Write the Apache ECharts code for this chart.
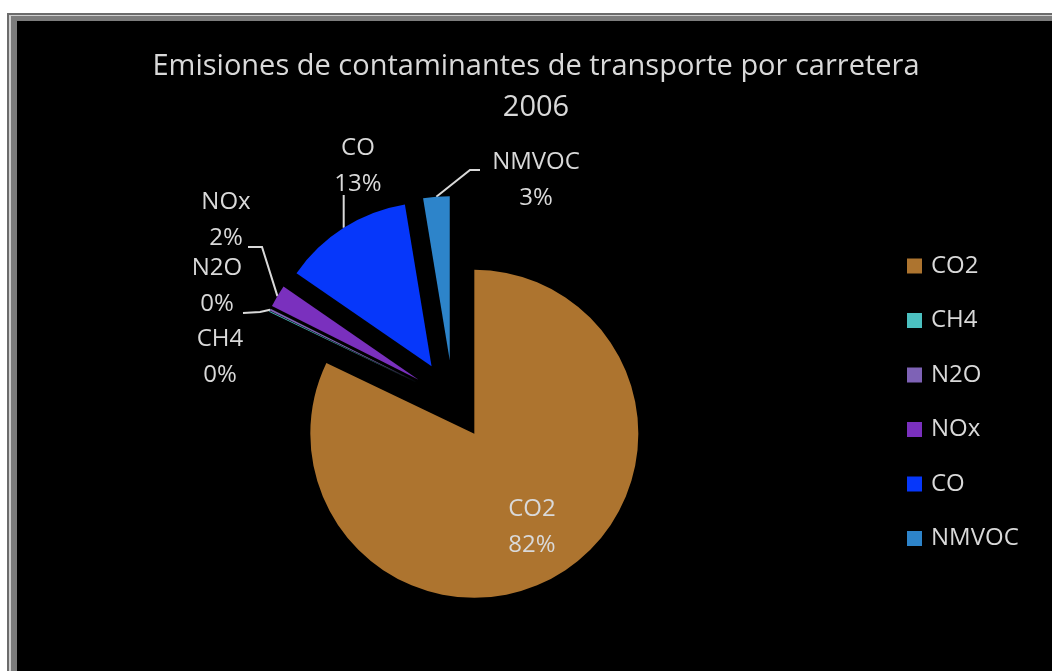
<!DOCTYPE html>
<html>
<head>
<meta charset="utf-8">
<script src="https://cdn.jsdelivr.net/npm/echarts@6/dist/echarts.min.js"></script>
<style>
  body { margin: 0; background: #fff; width: 1052px; height: 671px; overflow: hidden; position: relative; }
  .band { position: absolute; width: 1200px; height: 800px; }
  #chart { position: absolute; left: 17px; top: 21px; width: 1035px; height: 650px; background: #000; }
</style>
</head>
<body>
<div class="band" style="left:7px;top:13px;background:#6c6c6c"></div>
<div class="band" style="left:9px;top:15px;background:#cfcfcf"></div>
<div class="band" style="left:11px;top:16px;background:#7c7c7c"></div>
<div id="chart"></div>
<script>
const categories = ["CO2", "CH4", "N2O", "NOx", "CO", "NMVOC"];
const shares = [82.1, 0.1, 0.2, 2.2, 12.8, 2.6];
const colors = ["#ad742f", "#4bc0c0", "#7e62b6", "#7a30be", "#0637fa", "#2d84ca"];

const textColor = "#d9d9d9";
const font = "'Open Sans', 'Noto Sans', sans-serif";

const pieCenter = [436, 379];
const pieRadius = 164;
const explode = 40;

// label centres (chart px), placed the way Excel put them
const labelAt = {
  CO2: [515, 506],
  CH4: [203, 336],
  N2O: [200, 265],
  NOx: [209, 199],
  CO: [341, 145],
  NMVOC: [519, 159],
};
// leader line: bend and end points after the slice edge point
const leaderTail = {
  N2O: [[243, 291], [226, 292]],
  NOx: [[245, 226], [231, 226]],
  NMVOC: [[453, 149], [463, 149]],
};

const total = shares.reduce((a, b) => a + b, 0);

// point on the outer edge of an exploded slice, at its middle angle
function edgePoint(i) {
  const before = shares.slice(0, i).reduce((a, b) => a + b, 0);
  const a = ((before + shares[i] / 2) / total) * 2 * Math.PI;
  const r = pieRadius + explode;
  return [pieCenter[0] + r * Math.sin(a), pieCenter[1] - r * Math.cos(a)];
}

const chart = echarts.init(document.getElementById("chart"));
chart.setOption({
  animation: false,
  backgroundColor: "#000",
  title: {
    text: "Emisiones de contaminantes de transporte por carretera\n2006",
    left: 514,
    top: 20,
    textAlign: "center",
    textStyle: {
      color: textColor,
      fontFamily: font,
      fontWeight: "normal",
      fontSize: 29,
      lineHeight: 41,
    },
  },
  legend: {
    orient: "vertical",
    left: 885,
    top: 228,
    icon: "rect",
    itemWidth: 15,
    itemHeight: 15,
    itemGap: 30.5,
    data: categories,
    textStyle: { color: textColor, fontFamily: font, fontSize: 24, lineHeight: 24, padding: [0, 0, 0, 4] },
  },
  series: [
    {
      type: "pie",
      center: pieCenter,
      radius: pieRadius,
      startAngle: 90,
      clockwise: true,
      selectedMode: "multiple",
      selectedOffset: explode,
      emphasis: { disabled: true },
      label: { show: false },
      labelLine: { show: false },
      data: categories.map((name, i) => ({
        name,
        value: shares[i],
        selected: true,
        itemStyle: { color: colors[i] },
      })),
    },
    {
      // labels only, laid over the exploded slices
      type: "pie",
      center: pieCenter,
      radius: pieRadius,
      startAngle: 90,
      clockwise: true,
      silent: true,
      avoidLabelOverlap: false,
      emphasis: { disabled: true },
      itemStyle: { color: "rgba(0,0,0,0)" },
      label: {
        color: textColor,
        fontFamily: font,
        fontSize: 24,
        lineHeight: 36,
        formatter: (p) => p.name + "\n" + Math.round(p.percent) + "%",
      },
      labelLine: { lineStyle: { color: textColor, width: 2 } },
      labelLayout: (params) => {
        const i = params.dataIndex;
        const name = categories[i];
        const at = labelAt[name];
        const out = { x: at[0], y: at[1], align: "center", verticalAlign: "middle" };
        const p0 = edgePoint(i);
        if (leaderTail[name]) {
          out.labelLinePoints = [p0, ...leaderTail[name]];
        } else if (name === "CO") {
          out.labelLinePoints = [p0, [p0[0], 174], [p0[0], 174]];
        }
        return out;
      },
      data: categories.map((name, i) => ({
        name,
        value: shares[i],
        labelLine: { show: name !== "CO2" && name !== "CH4" },
      })),
    },
  ],
});
</script>
</body>
</html>
